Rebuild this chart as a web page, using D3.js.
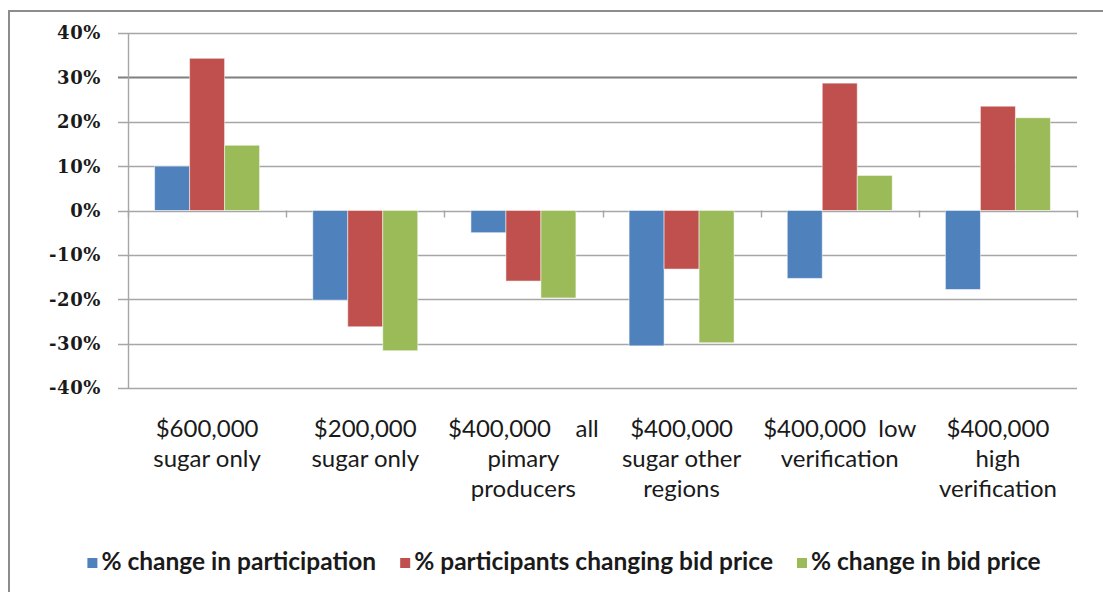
<!DOCTYPE html>
<html>
<head>
<meta charset="utf-8">
<script src="https://cdn.jsdelivr.net/npm/d3@7"></script>
<style>
  body { margin: 0; background: #fff; }
  svg { display: block; }
</style>
</head>
<body>
<div id="chart"></div>
<script>
// data
var categories = ["g1", "g2", "g3", "g4", "g5", "g6"];
var categoryLines = [
    ["$600,000", "sugar only"],
    ["$200,000", "sugar only"],
    ["$400,000    all", "pimary", "producers"],
    ["$400,000", "sugar other", "regions"],
    ["$400,000  low", "verification"],
    ["$400,000", "high", "verification"]
];
var seriesNames = ["% change in participation", "% participants changing bid price", "% change in bid price"];
var seriesColors = ["#4F81BD", "#C0504D", "#9BBB59"];
var changeParticipation = [0.10, -0.202, -0.05, -0.305, -0.153, -0.178];
var participantsChanging = [0.343, -0.262, -0.159, -0.132, 0.287, 0.235];
var changeBidPrice = [0.147, -0.316, -0.197, -0.298, 0.079, 0.209];
var yTicks = [-0.4, -0.3, -0.2, -0.1, 0, 0.1, 0.2, 0.3, 0.4];

var seriesValues = [changeParticipation, participantsChanging, changeBidPrice];

var W = 1103, H = 592;
var plot = { left: 128, right: 1077, top: 33, bottom: 388 };

var svg = d3.select("#chart").append("svg")
    .attr("width", W)
    .attr("height", H);

// outer frame (only top and left visible in the picture)
svg.append("rect")
    .attr("x", 9).attr("y", 11)
    .attr("width", 1110).attr("height", 600)
    .attr("fill", "none")
    .attr("stroke", "#8c8c8c")
    .attr("stroke-width", 2);

var y = d3.scaleLinear().domain([-0.4, 0.4]).range([plot.bottom, plot.top]);
var x0 = d3.scaleBand().domain(categories).range([plot.left, plot.right]).padding(0);
var x1 = d3.scaleBand().domain(d3.range(3)).range([0, x0.bandwidth()])
    .paddingInner(0).paddingOuter(0.76);

// gridlines
svg.selectAll(".grid")
    .data(yTicks)
    .enter().append("line")
    .attr("class", "grid")
    .attr("x1", plot.left - 10)
    .attr("x2", plot.right)
    .attr("y1", function(d) { return Math.round(y(d)) + 0.5; })
    .attr("y2", function(d) { return Math.round(y(d)) + 0.5; })
    .attr("stroke", function(d) { return Math.abs(d - 0.3) < 1e-9 ? "#7f7f7f" : "#a6a6a6"; })
    .attr("stroke-width", function(d) { return Math.abs(d - 0.3) < 1e-9 ? 2 : 1.4; });

// y axis line
svg.append("line")
    .attr("x1", plot.left + 0.5).attr("x2", plot.left + 0.5)
    .attr("y1", plot.top).attr("y2", plot.bottom)
    .attr("stroke", "#a6a6a6").attr("stroke-width", 1.4);

// y labels
svg.selectAll(".ylab")
    .data(yTicks)
    .enter().append("text")
    .attr("class", "ylab")
    .attr("x", 101)
    .attr("y", function(d) { return y(d); })
    .attr("dy", "0.36em")
    .attr("text-anchor", "end")
    .style("font-family", "'DejaVu Serif', serif")
    .style("font-weight", "bold")
    .style("font-size", "18px")
    .style("letter-spacing", "0.6px")
    .style("fill", "#1a1a1a")
    .text(function(d) { return d3.format(".0%")(d).replace("−", "-"); });

// bars
var groups = svg.selectAll(".group")
    .data(categories)
    .enter().append("g")
    .attr("class", "group")
    .attr("transform", function(d) { return "translate(" + x0(d) + ",0)"; });

groups.selectAll("rect")
    .data(function(d, i) { return seriesValues.map(function(s, k) { return { k: k, v: s[i] }; }); })
    .enter().append("rect")
    .attr("x", function(d) { return x1(d.k); })
    .attr("width", x1.bandwidth())
    .attr("y", function(d) { return y(Math.max(0, d.v)); })
    .attr("height", function(d) { return Math.abs(y(d.v) - y(0)); })
    .attr("fill", function(d) { return seriesColors[d.k]; })
    .attr("stroke", "#ffffff")
    .attr("stroke-opacity", 0.5)
    .attr("stroke-width", 1);

// category tick marks on zero line
var boundaries = categories.map(function(c) { return x0(c); }).concat([plot.right]);
svg.selectAll(".xtick")
    .data(boundaries)
    .enter().append("line")
    .attr("class", "xtick")
    .attr("x1", function(d) { return Math.round(d) + 0.5; })
    .attr("x2", function(d) { return Math.round(d) + 0.5; })
    .attr("y1", y(0))
    .attr("y2", y(0) + 7)
    .attr("stroke", "#a6a6a6").attr("stroke-width", 1.4);

// category labels
var labels = svg.selectAll(".xlab")
    .data(categories)
    .enter().append("text")
    .attr("class", "xlab")
    .attr("text-anchor", "middle")
    .attr("xml:space", "preserve")
    .style("white-space", "pre")
    .style("font-family", "Lato, 'Open Sans', sans-serif")
    .style("font-size", "24px")
    .style("fill", "#1a1a1a");

labels.each(function(c, i) {
    var t = d3.select(this);
    categoryLines[i].forEach(function(line, j) {
        t.append("tspan")
            .attr("x", x0(c) + x0.bandwidth() / 2)
            .attr("y", 437 + j * 30)
            .text(line);
    });
});

// legend
var legend = svg.append("g").attr("class", "legend");
var lx = 0;
seriesNames.forEach(function(name, k) {
    var item = legend.append("g").attr("transform", "translate(" + lx + ",0)");
    item.append("rect")
        .attr("x", 0).attr("y", 558)
        .attr("width", 10).attr("height", 10)
        .attr("fill", seriesColors[k]);
    var t = item.append("text")
        .attr("x", 14).attr("y", 570)
        .style("font-family", "Lato, 'Open Sans', sans-serif")
        .style("font-weight", "bold")
        .style("font-size", "24.5px")
        .style("fill", "#1a1a1a")
        .text(name);
    lx += 14 + t.node().getComputedTextLength() + 24;
});
var legendW = lx - 24;
legend.attr("transform", "translate(" + (564 - legendW / 2) + ",0)");
</script>
</body>
</html>
